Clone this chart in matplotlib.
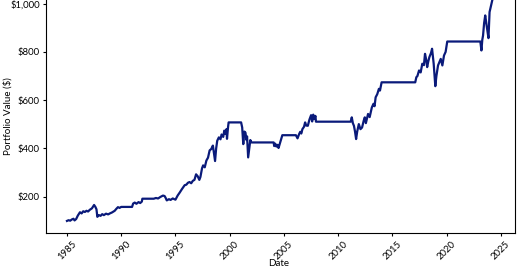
import matplotlib
matplotlib.use('Agg')
import matplotlib.pyplot as plt
from matplotlib.ticker import FuncFormatter

# portfolio value (decimal year, $)
years = [1985.00, 1985.15, 1985.30, 1985.45, 1985.60, 1985.70, 1985.85, 1986.00, 1986.20, 1986.35,
         1986.50, 1986.65, 1986.80, 1986.95, 1987.10, 1987.30, 1987.50, 1987.62, 1987.72, 1987.80,
         1987.95, 1988.10, 1988.25, 1988.40, 1988.60, 1988.80, 1988.95, 1989.15, 1989.40, 1989.55,
         1989.70, 1989.85, 1990.00, 1991.00, 1991.10, 1991.25, 1991.40, 1991.60, 1991.75, 1991.90,
         1991.95, 1993.00, 1993.20, 1993.40, 1993.60, 1993.85, 1994.00, 1994.10, 1994.20, 1994.40,
         1994.55, 1994.75, 1995.00, 1995.20, 1995.40, 1995.60, 1995.85, 1996.00, 1996.15, 1996.30,
         1996.45, 1996.60, 1996.75, 1996.90, 1997.05, 1997.20, 1997.30, 1997.45, 1997.55, 1997.70,
         1997.85, 1998.00, 1998.15, 1998.30, 1998.45, 1998.55, 1998.65, 1998.75, 1998.85, 1999.00,
         1999.15, 1999.25, 1999.40, 1999.50, 1999.60, 1999.70, 1999.75, 1999.85, 1999.90, 2001.05,
         2001.15, 2001.25, 2001.35, 2001.45, 2001.55, 2001.60, 2001.70, 2001.80, 2001.90, 2002.00,
         2004.05, 2004.10, 2004.20, 2004.30, 2004.40, 2004.50, 2004.65, 2004.85, 2006.10, 2006.25,
         2006.40, 2006.50, 2006.60, 2006.70, 2006.85, 2006.95, 2007.05, 2007.20, 2007.35, 2007.50,
         2007.60, 2007.70, 2007.80, 2007.90, 2007.95, 2011.15, 2011.25, 2011.35, 2011.45, 2011.55,
         2011.65, 2011.75, 2011.90, 2012.05, 2012.20, 2012.35, 2012.45, 2012.55, 2012.75, 2012.90,
         2013.10, 2013.25, 2013.35, 2013.45, 2013.60, 2013.75, 2013.85, 2014.00, 2017.10, 2017.20,
         2017.30, 2017.45, 2017.60, 2017.75, 2017.90, 2018.00, 2018.10, 2018.20, 2018.30, 2018.40,
         2018.55, 2018.65, 2018.80, 2018.95, 2019.05, 2019.20, 2019.35, 2019.45, 2019.60, 2019.75,
         2019.90, 2020.05, 2023.10, 2023.20, 2023.28, 2023.35, 2023.45, 2023.55, 2023.62, 2023.70,
         2023.85, 2023.95, 2024.05, 2024.20, 2024.30]
values = [100, 103, 101, 106, 109, 102, 108, 122, 136, 131,
          140, 137, 142, 139, 146, 152, 166, 158, 148, 117,
          124, 121, 128, 124, 130, 127, 131, 135, 142, 150,
          157, 154, 158, 158, 172, 176, 171, 178, 174, 180,
          192, 192, 195, 193, 199, 205, 203, 195, 185, 190,
          187, 193, 188, 205, 218, 232, 248, 250, 258, 261,
          256, 266, 270, 293, 285, 270, 282, 318, 330, 322,
          350, 362, 392, 398, 412, 380, 348, 400, 432, 446,
          438, 458, 448, 474, 460, 480, 440, 490, 508, 508,
          487, 418, 470, 466, 435, 450, 363, 400, 435, 425,
          425, 410, 420, 408, 415, 402, 425, 455, 455, 442,
          460, 469, 462, 480, 490, 508, 495, 494, 520, 538,
          512, 540, 522, 535, 511, 511, 529, 505, 494, 470,
          439, 470, 501, 480, 487, 515, 529, 505, 543, 530,
          570, 585, 575, 612, 625, 647, 640, 674, 674, 695,
          700, 723, 715, 751, 745, 792, 770, 737, 760, 778,
          795, 813, 751, 658, 700, 744, 760, 771, 744, 785,
          800, 843, 843, 806, 850, 868, 920, 951, 930, 903,
          857, 965, 985, 1014, 1030]
xticks = [1985, 1990, 1995, 2000, 2005, 2010, 2015, 2020, 2025]
yticks = [200, 400, 600, 800, 1000]

plt.rcParams['font.family'] = ['Lato', 'DejaVu Sans']

fig = plt.figure(figsize=(5.2, 2.72), dpi=100)
ax = fig.add_axes([0.0885, 0.1434, 0.902, 0.862])
ax.plot(years, values, color='#0a1a7a', lw=1.6)

ax.set_xlim(1983.07, 2026.3)
ax.set_ylim(50, 1021)
ax.set_xticks(xticks)
ax.set_yticks(yticks)
ax.yaxis.set_major_formatter(FuncFormatter(lambda v, p: '${:,.0f}'.format(v)))
ax.tick_params(labelsize=6.8, length=2.5, width=0.8, pad=2)
plt.setp(ax.get_xticklabels(), rotation=45)
ax.set_xlabel('Date', fontsize=7)
ax.set_ylabel('Portfolio Value ($)', fontsize=7)
ax.xaxis.set_label_coords(0.495, -0.11)
ax.yaxis.set_label_coords(-0.072, 0.5)
for s in ax.spines.values():
    s.set_linewidth(0.8)

fig.savefig('out.png', dpi=100)
